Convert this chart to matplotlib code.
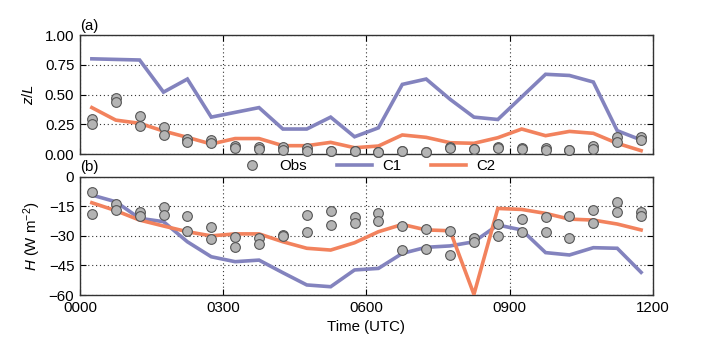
import matplotlib
matplotlib.use("Agg")
import matplotlib.pyplot as plt
import numpy as np
from matplotlib.lines import Line2D

plt.rcParams['font.family'] = ['Liberation Sans', 'DejaVu Sans']
plt.rcParams['mathtext.fontset'] = 'custom'
plt.rcParams['mathtext.it'] = 'Liberation Sans:italic'
plt.rcParams['mathtext.rm'] = 'Liberation Sans'

# times in hours (UTC)
time = [0.25, 0.75, 1.25, 1.75, 2.25, 2.75, 3.25, 3.75, 4.25, 4.75, 5.25, 5.75,
        6.25, 6.75, 7.25, 7.75, 8.25, 8.75, 9.25, 9.75, 10.25, 10.75, 11.25, 11.75]

# panel (a) z/L
zl_c1 = [0.80, 0.795, 0.79, 0.52, 0.63, 0.31, 0.35, 0.39, 0.21, 0.21, 0.31, 0.145,
         0.22, 0.585, 0.63, 0.46, 0.31, 0.29, 0.48, 0.67, 0.66, 0.605, 0.196, 0.118]
zl_c2 = [0.39, 0.285, 0.258, 0.193, 0.14, 0.084, 0.13, 0.13, 0.07, 0.07, 0.098, 0.053,
         0.067, 0.16, 0.14, 0.095, 0.09, 0.137, 0.21, 0.154, 0.19, 0.174, 0.09, 0.028]
zl_obs1 = [0.294, 0.468, 0.317, 0.227, 0.126, 0.118, 0.07, 0.059, 0.06, 0.053, 0.028, 0.028,
           0.02, 0.028, 0.02, 0.062, 0.04, 0.06, 0.048, 0.048, 0.036, 0.067, 0.146, 0.146]
zl_obs2 = [0.249, 0.434, 0.235, 0.157, 0.098, 0.095, 0.05, 0.04, 0.03, 0.028, 0.026, 0.026,
           0.02, 0.026, 0.02, 0.048, 0.038, 0.048, 0.046, 0.034, 0.034, 0.042, 0.104, 0.118]

# panel (b) H (W m-2)
h_c1 = [-9.3, -12.7, -21.1, -22.8, -33.0, -40.6, -43.1, -42.3, -48.7, -54.9, -55.8, -47.3,
        -46.5, -38.9, -35.8, -35.1, -33.0, -24.5, -27.0, -38.5, -39.7, -36.0, -36.3, -48.5]
h_c2 = [-13.2, -17.2, -22.0, -25.0, -27.9, -30.0, -29.0, -29.0, -33.0, -36.3, -37.2, -33.5,
        -27.9, -24.2, -27.0, -27.4, -59.7, -16.1, -16.6, -18.6, -21.5, -22.0, -24.0, -27.0]
h_obs1 = [-7.6, -14.0, -18.0, -15.2, -19.9, -25.7, -30.4, -30.9, -29.6, -19.4, -17.2, -20.3,
          -18.3, -24.8, -26.7, -27.4, -30.9, -24.1, -21.6, -20.3, -19.8, -16.9, -12.7, -17.7]
h_obs2 = [-19.1, -16.9, -19.9, -19.4, -27.5, -31.6, -35.5, -34.3, -30.0, -27.9, -24.5, -23.3,
          -22.3, -37.2, -36.8, -39.7, -33.3, -30.0, -27.9, -28.2, -30.9, -23.7, -18.1, -19.8]

xticks = [0, 3, 6, 9, 12]
xticklabels = ['0000', '0300', '0600', '0900', '1200']

C1_COLOR = '#8383be'
C2_COLOR = '#f2825d'
OBS_FACE = '#b4b4b4'
OBS_EDGE = '#555555'

fig = plt.figure(figsize=(7.2, 3.53), dpi=100)
ax1 = fig.add_axes([0.111, 0.5637, 0.796, 0.3371])
ax2 = fig.add_axes([0.111, 0.1643, 0.796, 0.3351])

fs = 10.8
lw = 2.6
ms = 7.0

def style(ax):
    ax.set_xlim(0, 12)
    ax.set_xticks(xticks)
    ax.tick_params(direction='in', top=True, right=True, length=4, width=0.8,
                   labelsize=fs, pad=4)
    ax.grid(True, linestyle=(0, (1, 2.5)), color='#333333', linewidth=0.8)
    for s in ax.spines.values():
        s.set_linewidth(1.0)
        s.set_color('#333333')

for ax, c1, c2, o1, o2 in [(ax1, zl_c1, zl_c2, zl_obs1, zl_obs2),
                           (ax2, h_c1, h_c2, h_obs1, h_obs2)]:
    ax.plot(time, c1, color=C1_COLOR, lw=lw, solid_joinstyle='miter', zorder=3)
    ax.plot(time, c2, color=C2_COLOR, lw=lw, solid_joinstyle='miter', zorder=3)
    ax.plot(time, o1, 'o', ms=ms, mfc=OBS_FACE, mec=OBS_EDGE, mew=0.8, zorder=4, clip_on=False)
    ax.plot(time, o2, 'o', ms=ms, mfc=OBS_FACE, mec=OBS_EDGE, mew=0.8, zorder=4, clip_on=False)
    style(ax)

ax1.set_ylim(0, 1)
ax1.set_yticks([0, 0.25, 0.5, 0.75, 1.0])
ax1.set_yticklabels(['0.00', '0.25', '0.50', '0.75', '1.00'])
ax1.set_xticklabels([])
ax1.set_ylabel('$z/L$', fontsize=fs, labelpad=6)
ax1.text(0.0, 1.02, '(a)', transform=ax1.transAxes, fontsize=fs, ha='left', va='bottom')

ax2.set_ylim(-60, 0)
ax2.set_yticks([-60, -45, -30, -15, 0])
ax2.set_yticklabels(['\u221260', '\u221245', '\u221230', '\u221215', '0'])
ax2.set_xticklabels(xticklabels)
ax2.set_ylabel('$H$ (W m$^{-2}$)', fontsize=fs, labelpad=4)
ax2.set_xlabel('Time (UTC)', fontsize=fs, labelpad=4)
ax2.text(0.0, 1.02, '(b)', transform=ax2.transAxes, fontsize=fs, ha='left', va='bottom')

handles = [Line2D([], [], ls='none', marker='o', ms=ms, mfc=OBS_FACE, mec=OBS_EDGE, mew=0.8),
           Line2D([], [], color=C1_COLOR, lw=lw),
           Line2D([], [], color=C2_COLOR, lw=lw)]
fig.legend(handles, ['Obs', 'C1', 'C2'], loc='center', bbox_to_anchor=(0.507, 0.529),
           ncol=3, frameon=False, fontsize=fs, handlelength=2.3, columnspacing=2.0,
           handletextpad=0.7, borderpad=0.0)

fig.savefig('out.png', dpi=100)
